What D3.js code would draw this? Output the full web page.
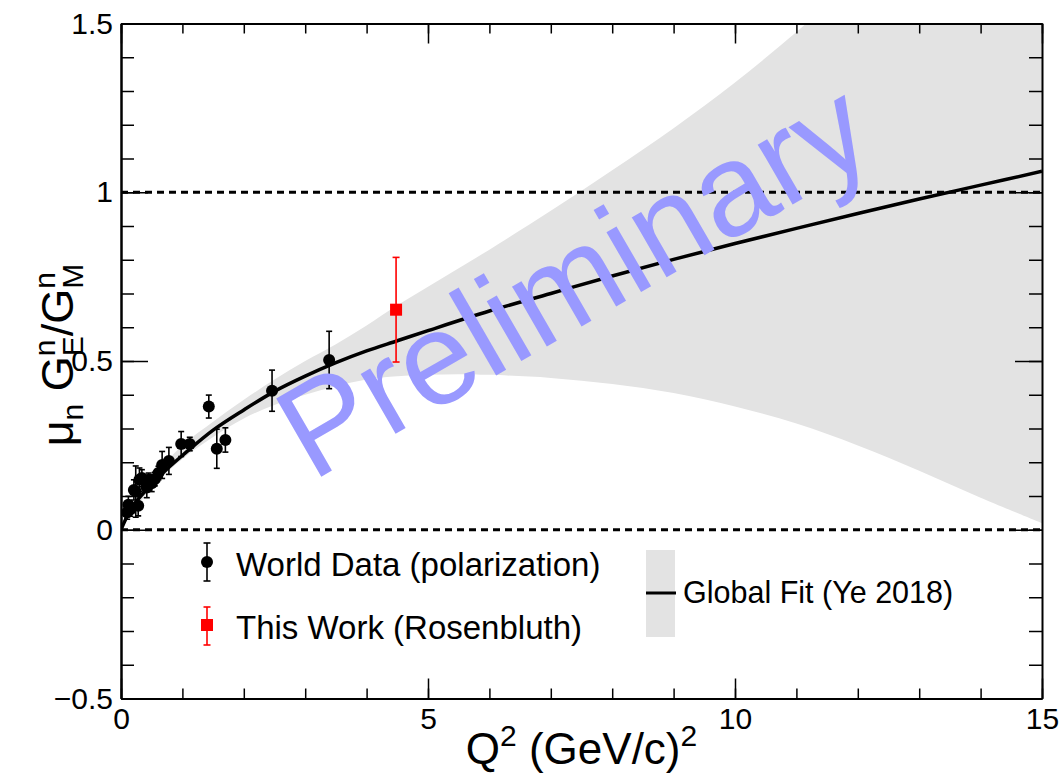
<!DOCTYPE html>
<html>
<head>
<meta charset="utf-8">
<script src="https://cdn.jsdelivr.net/npm/d3@7"></script>
<style>
  body { margin: 0; background: #fff; overflow: hidden; }
  svg { display: block; }
  text { font-family: "Liberation Sans", Arial, Helvetica, sans-serif; }
</style>
</head>
<body>
<div id="chart"></div>
<script>
var outerWidth = 1060;
var outerHeight = 776;
var margin = {left: 121, top: 23.5, right: 18, bottom: 77.5};
var innerWidth = outerWidth - margin.left - margin.right;
var innerHeight = outerHeight - margin.top - margin.bottom;

// world data (polarization): Q2, mu_n GE/GM, error
var worldQ2  = [0.10, 0.12, 0.15, 0.21, 0.24, 0.28, 0.30, 0.34, 0.42, 0.45, 0.50, 0.55, 0.61, 0.67, 0.78, 0.98, 1.12, 1.43, 1.56, 1.70, 2.46, 3.39];
var worldVal = [0.051, 0.074, 0.060, 0.118, 0.113, 0.071, 0.148, 0.153, 0.125, 0.148, 0.138, 0.150, 0.168, 0.192, 0.204, 0.254, 0.254, 0.365, 0.240, 0.266, 0.412, 0.503];
var worldErr = [0.020, 0.025, 0.020, 0.030, 0.076, 0.030, 0.035, 0.025, 0.030, 0.020, 0.025, 0.020, 0.020, 0.040, 0.040, 0.037, 0.020, 0.034, 0.058, 0.036, 0.061, 0.085];

// this work (Rosenbluth)
var thisQ2  = [4.48];
var thisVal = [0.652];
var thisErr = [0.155];

// global fit (Ye 2018)
var fitQ2  = [0, 0.1, 0.2, 0.3, 0.5, 0.75, 1, 1.5, 2, 2.5, 3, 3.5, 4, 4.5, 5, 6, 7, 8, 9, 10, 11, 12, 13, 14, 15];
var fitVal = [0, 0.04, 0.07, 0.095, 0.135, 0.18, 0.22, 0.295, 0.355, 0.41, 0.455, 0.495, 0.53, 0.56, 0.59, 0.648, 0.70, 0.752, 0.801, 0.848, 0.893, 0.937, 0.980, 1.021, 1.062];

// fit uncertainty band
var bandQ2 = [0, 0.5, 1, 1.5, 2, 2.5, 3, 3.5, 4, 4.5, 5, 5.5, 6, 7, 8, 9, 10, 11, 12, 13, 14, 15];
var bandLo = [0, 0.125, 0.21, 0.275, 0.33, 0.37, 0.40, 0.425, 0.445, 0.455, 0.459, 0.461, 0.459, 0.45, 0.432, 0.405, 0.365, 0.315, 0.25, 0.175, 0.095, 0.02];
var bandHi = [0, 0.15, 0.25, 0.32, 0.385, 0.445, 0.50, 0.55, 0.605, 0.665, 0.72, 0.775, 0.83, 0.945, 1.065, 1.19, 1.325, 1.475, 1.635, 1.80, 1.97, 2.14];

var refLines = [0, 1];
var xMajor = [0, 5, 10, 15];
var yMajor = [-0.5, 0, 0.5, 1, 1.5];

var bandColor = "#e3e3e3";

var svg = d3.select("#chart").append("svg")
    .attr("width", outerWidth)
    .attr("height", outerHeight);

var g = svg.append("g")
    .attr("transform", "translate(" + margin.left + "," + margin.top + ")");

var xScale = d3.scaleLinear().domain([0, 15]).range([0, innerWidth]);
var yScale = d3.scaleLinear().domain([-0.5, 1.5]).range([innerHeight, 0]);

svg.append("defs").append("clipPath").attr("id", "plotclip")
  .append("rect").attr("width", innerWidth).attr("height", innerHeight);

var plot = g.append("g").attr("clip-path", "url(#plotclip)");

// band
var band = bandQ2.map(function(q, i) { return {q: q, lo: bandLo[i], hi: bandHi[i]}; });
var area = d3.area()
    .x(function(d) { return xScale(d.q); })
    .y0(function(d) { return yScale(d.lo); })
    .y1(function(d) { return yScale(d.hi); })
    .curve(d3.curveCatmullRom);
plot.append("path").attr("d", area(band)).attr("fill", bandColor);

// watermark
g.append("text")
    .attr("transform", "translate(" + (312 - margin.left) + "," + (482 - margin.top) + ") rotate(-30)")
    .attr("font-size", 131)
    .attr("fill", "#9999ff")
    .text("Preliminary");

// dashed reference lines
plot.selectAll(".ref").data(refLines).enter().append("line")
    .attr("x1", 0).attr("x2", innerWidth)
    .attr("y1", function(d) { return yScale(d); })
    .attr("y2", function(d) { return yScale(d); })
    .attr("stroke", "#000").attr("stroke-width", 3)
    .attr("stroke-dasharray", "7,5");

// fit line
var fit = fitQ2.map(function(q, i) { return {q: q, v: fitVal[i]}; });
var line = d3.line()
    .x(function(d) { return xScale(d.q); })
    .y(function(d) { return yScale(d.v); })
    .curve(d3.curveCatmullRom);
plot.append("path").attr("d", line(fit))
    .attr("fill", "none").attr("stroke", "#000").attr("stroke-width", 3.5);

// error bar helper
function errorBars(sel, xs, ys, es, color, cap) {
  var data = xs.map(function(q, i) { return {q: q, v: ys[i], e: es[i]}; });
  var eg = sel.append("g").attr("stroke", color).attr("stroke-width", 1.6);
  eg.selectAll(".bar").data(data).enter().append("line")
      .attr("x1", function(d) { return xScale(d.q); })
      .attr("x2", function(d) { return xScale(d.q); })
      .attr("y1", function(d) { return yScale(d.v - d.e); })
      .attr("y2", function(d) { return yScale(d.v + d.e); });
  [-1, 1].forEach(function(s) {
    eg.selectAll(".cap" + s).data(data).enter().append("line")
        .attr("x1", function(d) { return xScale(d.q) - cap; })
        .attr("x2", function(d) { return xScale(d.q) + cap; })
        .attr("y1", function(d) { return yScale(d.v + s * d.e); })
        .attr("y2", function(d) { return yScale(d.v + s * d.e); });
  });
  return data;
}

var world = errorBars(plot, worldQ2, worldVal, worldErr, "#000", 3);
plot.selectAll(".pt").data(world).enter().append("circle")
    .attr("cx", function(d) { return xScale(d.q); })
    .attr("cy", function(d) { return yScale(d.v); })
    .attr("r", 6).attr("fill", "#000");

var mine = errorBars(plot, thisQ2, thisVal, thisErr, "#ff0000", 3.5);
plot.selectAll(".sq").data(mine).enter().append("rect")
    .attr("x", function(d) { return xScale(d.q) - 6; })
    .attr("y", function(d) { return yScale(d.v) - 6; })
    .attr("width", 12).attr("height", 12).attr("fill", "#ff0000");

// axes (ROOT style, ticks inside on all sides)
function minorTicks(lo, hi, step) {
  var out = [];
  for (var v = lo; v <= hi + 1e-9; v += step) out.push(+v.toFixed(3));
  return out;
}
var xMinor = minorTicks(0, 15, 1);
var yMinor = minorTicks(-0.5, 1.5, 0.1);
var fmt = function(d) { return d < 0 ? "\u2212" + Math.abs(d) : String(d); };

function styleAxis(sel) {
  sel.select(".domain").attr("stroke-width", 2);
  sel.selectAll(".tick line").attr("stroke-width", 1.5);
  sel.selectAll("text").attr("font-size", 30).attr("fill", "#000")
     .attr("font-family", "'Liberation Sans', Arial, sans-serif");
}

var xAxisG = g.append("g").attr("transform", "translate(0," + innerHeight + ")");
xAxisG.call(d3.axisBottom(xScale).tickValues(xMinor).tickSize(-10).tickSizeOuter(0).tickFormat(""));
xAxisG.append("g").call(d3.axisBottom(xScale).tickValues(xMajor).tickSize(-20).tickSizeOuter(0).tickPadding(9).tickFormat(fmt)).call(styleAxis);
styleAxis(xAxisG);

var topG = g.append("g");
topG.call(d3.axisTop(xScale).tickValues(xMinor).tickSize(-10).tickSizeOuter(0).tickFormat(""));
topG.append("g").call(d3.axisTop(xScale).tickValues(xMajor).tickSize(-20).tickSizeOuter(0).tickFormat(""));
styleAxis(topG);

var yAxisG = g.append("g");
yAxisG.call(d3.axisLeft(yScale).tickValues(yMinor).tickSize(-13).tickSizeOuter(0).tickFormat(""));
yAxisG.append("g").call(d3.axisLeft(yScale).tickValues(yMajor).tickSize(-27).tickSizeOuter(0).tickPadding(8).tickFormat(fmt)).call(styleAxis);
styleAxis(yAxisG);

var rightG = g.append("g").attr("transform", "translate(" + innerWidth + ",0)");
rightG.call(d3.axisRight(yScale).tickValues(yMinor).tickSize(-13).tickSizeOuter(0).tickFormat(""));
rightG.append("g").call(d3.axisRight(yScale).tickValues(yMajor).tickSize(-27).tickSizeOuter(0).tickFormat(""));
styleAxis(rightG);

// axis titles
var xt = svg.append("text")
    .attr("x", margin.left + innerWidth / 2).attr("y", 764)
    .attr("text-anchor", "middle").attr("font-size", 44);
xt.append("tspan").text("Q");
xt.append("tspan").attr("font-size", 30).attr("dy", -18).text("2");
xt.append("tspan").attr("dy", 18).text(" (GeV/c)");
xt.append("tspan").attr("font-size", 30).attr("dy", -18).text("2");

var yt = svg.append("text")
    .attr("transform", "translate(73,355) rotate(-90)")
    .attr("text-anchor", "middle").attr("font-size", 45);
yt.append("tspan").text("\u03bc");
yt.append("tspan").attr("font-size", 30).attr("dy", 10).text("n");
yt.append("tspan").attr("dy", -10).text(" G");
yt.append("tspan").attr("font-size", 30).attr("dy", -18).text("n");
yt.append("tspan").attr("font-size", 30).attr("dx", -16.7).attr("dy", 28).text("E");
yt.append("tspan").attr("dy", -10).text("/G");
yt.append("tspan").attr("font-size", 30).attr("dy", -18).text("n");
yt.append("tspan").attr("font-size", 30).attr("dx", -16.7).attr("dy", 28).text("M");

// legend
var leg = svg.append("g");
var legPts = [
  {label: "World Data (polarization)", color: "#000", shape: "circle", y: 562, lo: 543, hi: 581},
  {label: "This Work (Rosenbluth)", color: "#ff0000", shape: "square", y: 625, lo: 607, hi: 645}
];
legPts.forEach(function(d) {
  leg.append("line").attr("x1", 207).attr("x2", 207).attr("y1", d.lo).attr("y2", d.hi)
     .attr("stroke", d.color).attr("stroke-width", 1.6);
  [d.lo, d.hi].forEach(function(yy) {
    leg.append("line").attr("x1", 203.5).attr("x2", 210.5).attr("y1", yy).attr("y2", yy)
       .attr("stroke", d.color).attr("stroke-width", 1.6);
  });
  if (d.shape === "circle") {
    leg.append("circle").attr("cx", 207).attr("cy", d.y).attr("r", 6).attr("fill", d.color);
  } else {
    leg.append("rect").attr("x", 201).attr("y", d.y - 6).attr("width", 12).attr("height", 12).attr("fill", d.color);
  }
  leg.append("text").attr("x", 236).attr("y", d.y + 14).attr("font-size", 33).text(d.label);
});

leg.append("rect").attr("x", 646).attr("y", 550).attr("width", 29).attr("height", 87).attr("fill", bandColor);
leg.append("line").attr("x1", 646).attr("x2", 676).attr("y1", 593).attr("y2", 593)
   .attr("stroke", "#000").attr("stroke-width", 3);
leg.append("text").attr("x", 683).attr("y", 603).attr("font-size", 30.5).text("Global Fit (Ye 2018)");
</script>
</body>
</html>
